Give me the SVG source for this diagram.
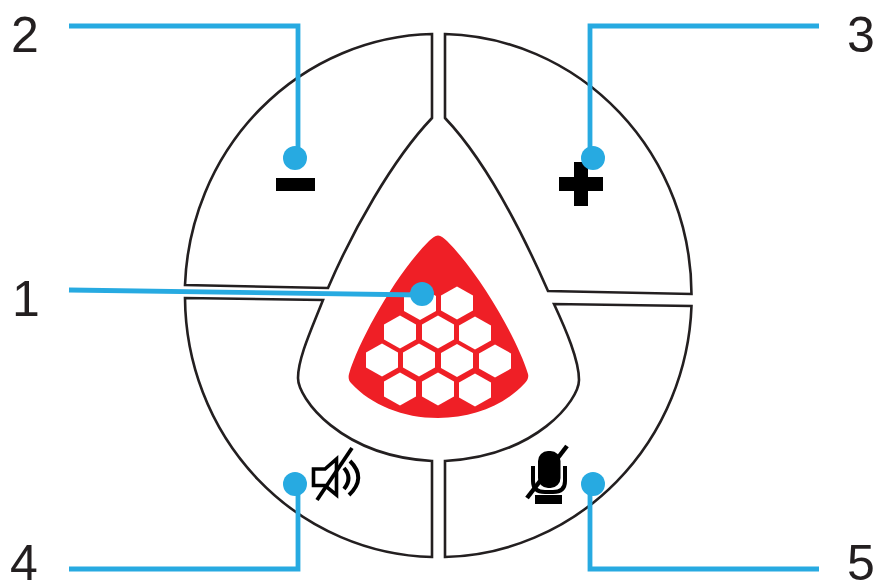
<svg xmlns="http://www.w3.org/2000/svg" width="876" height="581" viewBox="0 0 876 581">
<style>
.panel{fill:#fff;stroke:#231f20;stroke-width:2.6;stroke-linejoin:miter}
.wire{fill:none;stroke:#27aae1;stroke-width:4.800}
.dot{fill:#27aae1}
.num{font-family:"Liberation Sans",Arial,sans-serif;font-size:50px;fill:#231f20}
.hex{fill:#fff}
.ic{fill:none;stroke:#000}
</style>
<defs><polygon id="h" points="0,-16.400 16,-7.600 16,7.600 0,16.400 -16,7.600 -16,-7.600"/></defs>
<rect width="876" height="581" fill="#fff"/>
<g id="panel-minus"><path class="panel" d="M432,34 V118 C392,160 352,232 328,288 L185,285 A253,261 0 0 1 432,34 Z"/>
<rect x="276" y="178" width="39" height="13" fill="#000"/></g>
<g id="panel-plus"><path class="panel" d="M445,34 V118 C485,160 522,232 548,291 L691.500,294 A253,261 0 0 0 445,34 Z"/>
<path d="M574,162 H588 V177 H603 V191 H588 V206 H574 V191 H559 V177 H574 Z" fill="#000"/></g>
<g id="panel-speaker"><path class="panel" d="M432,461 V557 A253,261 0 0 1 185,298 L323,300 C312,328 298,358 298,378 C298,398 340,456 432,461 Z"/>
<path d="M313.500,469 H325 L336.500,459 V495 L325,485.500 H313.500 Z" class="ic" stroke-width="3.600"/>
<path d="M352,448 L317,500" class="ic" stroke-width="3.800"/>
<path d="M344,468 Q353,478 344,489" class="ic" stroke-width="4"/>
<path d="M350,461 Q367,478 349,495" class="ic" stroke-width="4"/></g>
<g id="panel-mic"><path class="panel" d="M445,461 V557 A253,261 0 0 0 691.500,306 L554,304 C566,330 579,360 579,380 C579,400 537,456 445,461 Z"/>
<rect x="538" y="451" width="22.500" height="37" rx="10" fill="#000"/>
<path d="M533,466 V481 Q533,492 545,492 H553 Q565,492 565,481 V466" class="ic" stroke-width="4"/>
<rect x="535" y="495" width="27" height="9" fill="#000"/>
<path d="M567,446 L527,498" stroke="#000" stroke-width="4.500"/></g>
<g id="logo">
<path d="M438,235.500 C441,235.500 444,238 447,241 C480,274 518,340 528,374 C529,378 527,381 525,383 C505,405 473,418 438,418 C403,418 371,405 351,383 C349,381 348,378 349,374 C359,340 396,274 429,241 C432,238 435,235.500 438,235.500 Z" fill="#ef1f26"/>
<use href="#h" class="hex" x="420" y="303.500"/><use href="#h" class="hex" x="457" y="303"/>
<use href="#h" class="hex" x="400" y="332"/><use href="#h" class="hex" x="438" y="332"/><use href="#h" class="hex" x="475" y="333"/>
<use href="#h" class="hex" x="382" y="360"/><use href="#h" class="hex" x="419" y="360"/><use href="#h" class="hex" x="457" y="360.500"/><use href="#h" class="hex" x="495" y="361"/>
<use href="#h" class="hex" x="400" y="389"/><use href="#h" class="hex" x="438" y="389"/><use href="#h" class="hex" x="475" y="390"/>
</g>
<g id="connectors">
<path class="wire" d="M69,290 L422,295"/>
<path class="wire" d="M69,26 H298 V158"/>
<path class="wire" d="M819,26 H590 V158"/>
<path class="wire" d="M69,569 H298 V484"/>
<path class="wire" d="M819,569 H590 V484"/>
<circle class="dot" cx="422" cy="294" r="12"/>
<circle class="dot" cx="295" cy="158" r="12"/>
<circle class="dot" cx="593" cy="158" r="12"/>
<circle class="dot" cx="295" cy="484" r="12"/>
<circle class="dot" cx="593" cy="484" r="12"/>
</g>
<g id="label-1"><text class="num" x="12" y="316">1</text></g>
<g id="label-2"><text class="num" x="11" y="52">2</text></g>
<g id="label-3"><text class="num" x="847" y="52">3</text></g>
<g id="label-4"><text class="num" x="10" y="580">4</text></g>
<g id="label-5"><text class="num" x="847" y="580">5</text></g>
</svg>
